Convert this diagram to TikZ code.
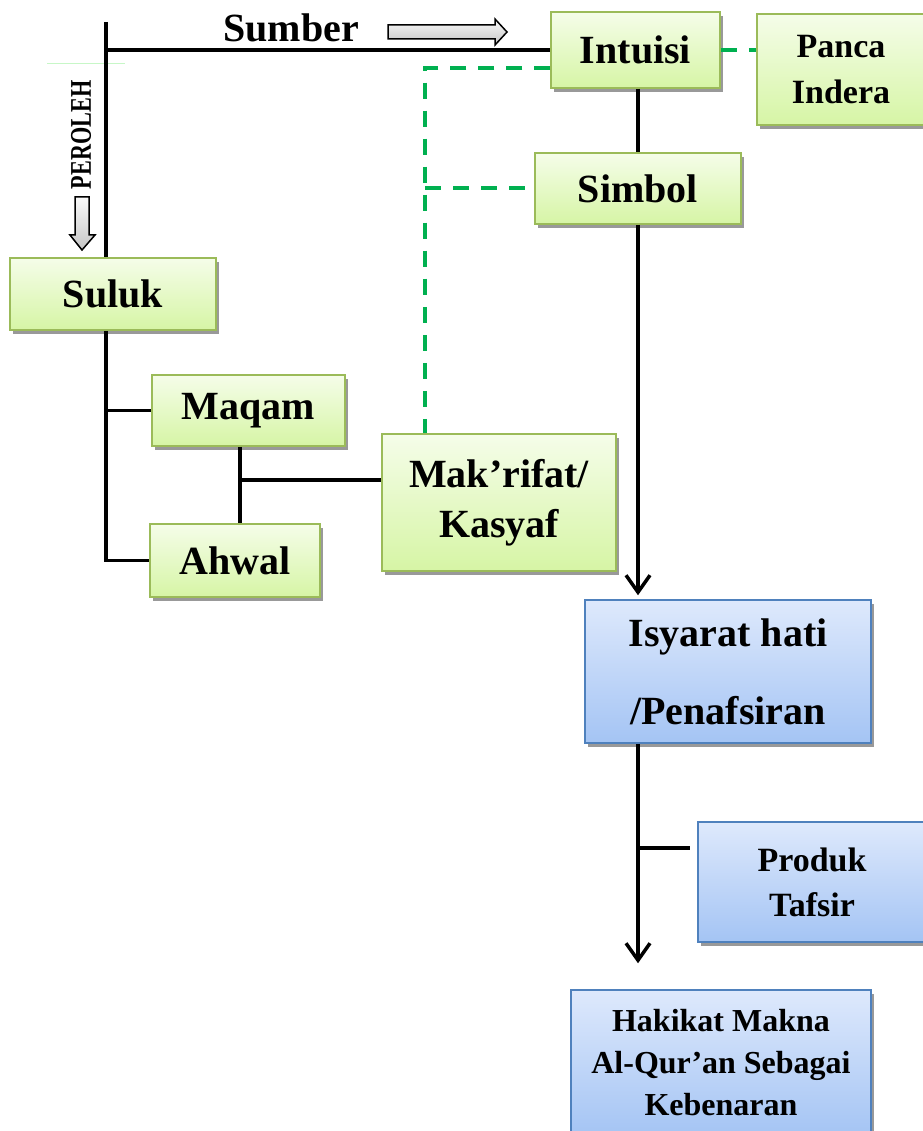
\documentclass[tikz,border=0pt]{standalone}
\usepackage{fontspec}
\setmainfont{Liberation Serif}
\usetikzlibrary{arrows.meta,shadows}
\definecolor{garishijau}{RGB}{155,187,89}
\definecolor{hijauatas}{RGB}{245,253,233}
\definecolor{hijaubawah}{RGB}{214,245,165}
\definecolor{garisbiru}{RGB}{79,129,189}
\definecolor{biruatas}{RGB}{222,233,252}
\definecolor{birubawah}{RGB}{164,196,244}
\definecolor{putus}{RGB}{0,176,80}
\tikzset{
	kotak/.style={rectangle, line width=1.5pt, align=center, font=\bfseries\fontsize{40}{50}\selectfont,
		drop shadow={shadow xshift=3pt, shadow yshift=-4pt, fill=black!40, opacity=1}},
	hijau/.style={kotak, draw=garishijau, top color=hijauatas, bottom color=hijaubawah},
	biru/.style={kotak, draw=garisbiru, top color=biruatas, bottom color=birubawah},
	garis/.style={line width=3.5pt},
	panah/.style={line width=3.5pt, -{Straight Barb[length=17pt, width=24pt, line width=3.5pt]}},
	hijauputus/.style={draw=putus, line width=4pt, dash pattern=on 16pt off 12pt},
	kosong/.style={draw=black, line width=1.5pt, top color=gray!5, bottom color=gray!45}
}
\begin{document}
\begin{tikzpicture}[x=1pt, y=-1pt]
	\useasboundingbox (0,0) rectangle (922,1131);
	% kotak-kotak
	\node[hijau, minimum width=169pt, minimum height=76pt] (intuisi) at (635.5,50) {Intuisi};
	\node[hijau, minimum width=168pt, minimum height=111pt, font=\bfseries\fontsize{34}{46}\selectfont] (panca) at (841,69.5) {Panca\\Indera};
	\node[hijau, minimum width=206pt, minimum height=71pt] (simbol) at (638,188.5) {Simbol};
	\node[hijau, minimum width=206pt, minimum height=72pt] (suluk) at (113,294) {Suluk};
	\node[hijau, minimum width=193pt, minimum height=71pt] (maqam) at (248.5,410.5) {Maqam};
	\node[hijau, minimum width=170pt, minimum height=73pt] (ahwal) at (235,560.5) {Ahwal};
	\node[hijau, minimum width=234pt, minimum height=137pt] (makrifat) at (499,502.5) {Mak’rifat/\\Kasyaf};
	\node[biru, minimum width=286pt, minimum height=143pt, font=\bfseries\fontsize{40}{78}\selectfont] (isyarat) at (728,671.5) {Isyarat hati\\/Penafsiran};
	\node[biru, minimum width=228pt, minimum height=120pt, font=\bfseries\fontsize{34}{45}\selectfont] (produk) at (812,882) {Produk\\Tafsir};
	\node[biru, minimum width=300pt, minimum height=146pt, font=\bfseries\fontsize{32}{42}\selectfont] (hakikat) at (721,1063) {Hakikat Makna\\Al-Qur’an Sebagai\\Kebenaran};
	% label
	\node[font=\bfseries\fontsize{40}{40}\selectfont] (sumber) at (291,28) {Sumber};
	\draw[gray!25!green!25, line width=0.6pt] (47,63) -- (125,63);
	\node[rotate=90, font=\bfseries\fontsize{30}{30}\selectfont, inner sep=0pt] (peroleh) at (81,135) {\scalebox{0.74}[1]{PEROLEH}};
	\draw[kosong] (388,25) -- (495,25) -- (495,19) -- (507,32) -- (495,45) -- (495,39) -- (388,39) -- cycle;
	\draw[kosong] (75,197) -- (89,197) -- (89,235) -- (95,235) -- (82,250) -- (70,235) -- (75,235) -- cycle;
	% garis
	\coordinate (atas) at (106,22);
	\coordinate (simpang) at (240,480);
	\coordinate (putus) at (425,68);
	\coordinate (tepi) at (690,848);
	\draw[garis] (atas) -- (atas |- suluk.north);
	\draw[garis] (atas |- intuisi.west) -- (intuisi.west);
	\draw[garis] (atas |- suluk.south) -- (atas |- ahwal.west) -- (ahwal.west);
	\draw[garis] (atas |- maqam.west) -- (maqam.west);
	\draw[garis] (simpang |- maqam.south) -- (simpang |- ahwal.north);
	\draw[garis] (simpang) -- (makrifat.west |- simpang);
	\draw[hijauputus] (intuisi.west |- putus) -- (putus) -- (putus |- makrifat.north);
	\draw[hijauputus] (putus |- simbol.west) -- (simbol.west);
	\draw[hijauputus] (intuisi.east) -- (intuisi.east -| panca.west);
	\draw[garis] (intuisi.south -| simbol.north) -- (simbol.north);
	\draw[panah, shorten >=4pt] (simbol.south) -- (simbol.south |- isyarat.north);
	\draw[panah, shorten >=26pt] (simbol.south |- isyarat.south) -- (simbol.south |- hakikat.north);
	\draw[garis] (simbol.south |- tepi) -- (tepi);
\end{tikzpicture}
\end{document}
